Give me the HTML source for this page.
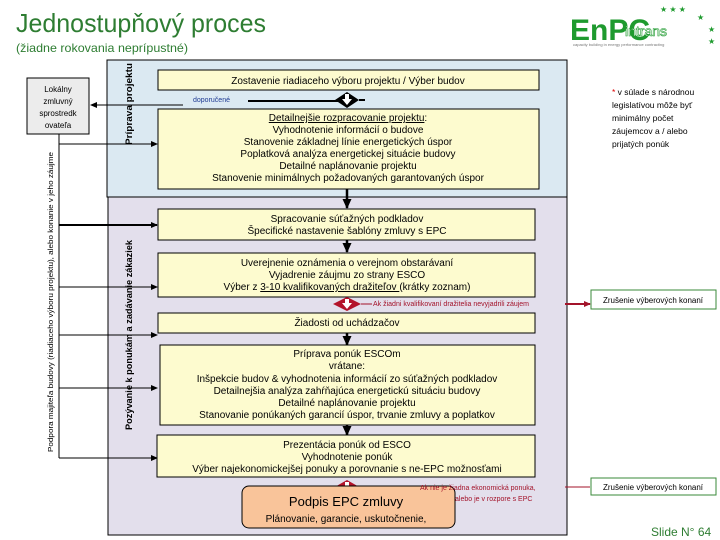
<!DOCTYPE html>
<html><head><meta charset="utf-8"><style>
html,body{margin:0;padding:0;background:#fff}
svg{display:block}
text{font-family:"Liberation Sans",sans-serif}
</style></head><body>
<svg width="720" height="540" viewBox="0 0 720 540" xmlns="http://www.w3.org/2000/svg">
<defs>
<marker id="a" markerUnits="userSpaceOnUse" markerWidth="7" markerHeight="7" refX="6" refY="3.5" orient="auto"><path d="M0,0.5 L7,3.5 L0,6.5z" fill="#000"/></marker>
<marker id="ab" markerUnits="userSpaceOnUse" markerWidth="10" markerHeight="10" refX="9" refY="5" orient="auto"><path d="M0,0.5 L10,5 L0,9.5z" fill="#000"/></marker>
<marker id="ar" markerUnits="userSpaceOnUse" markerWidth="7" markerHeight="7" refX="6" refY="3.5" orient="auto"><path d="M0,0.5 L7,3.5 L0,6.5z" fill="#a3132a"/></marker>
</defs>
<text x="16" y="32" font-size="26" fill="#2e7d32" textLength="250" lengthAdjust="spacingAndGlyphs">Jednostupňový proces</text>
<text x="16" y="52" font-size="12" fill="#2e7d32" textLength="172" lengthAdjust="spacingAndGlyphs">(žiadne rokovania neprípustné)</text>
<!-- logo -->
<text x="570" y="40" font-size="30" font-weight="bold" fill="#1e9a2e">EnPC</text>
<text x="625" y="36" font-size="14" fill="#ffffff" stroke="#1e9a2e" stroke-width="0.6">intrans</text>
<text x="573" y="46" font-size="4" fill="#777">capacity building in energy performance contracting</text>
<text x="660" y="12" font-size="8" fill="#1e9a2e">★ ★ ★</text>
<text x="697" y="20" font-size="8" fill="#1e9a2e">★</text>
<text x="708" y="32" font-size="8" fill="#1e9a2e">★</text>
<text x="708" y="44" font-size="8" fill="#1e9a2e">★</text>
<!-- panels -->
<rect x="107" y="60" width="460" height="137" fill="#dbe9f2" stroke="#000" stroke-width="1"/>
<rect x="108" y="197" width="459" height="338" fill="#e3dfec" stroke="#000" stroke-width="1"/>
<text transform="translate(132,145) rotate(-90)" font-size="9" font-weight="bold" textLength="82" lengthAdjust="spacingAndGlyphs">Príprava projektu</text>
<text transform="translate(132,430) rotate(-90)" font-size="9" font-weight="bold" textLength="190" lengthAdjust="spacingAndGlyphs">Pozývanie k ponukám a zadávanie zákaziek</text>
<text transform="translate(53,452) rotate(-90)" font-size="7" textLength="300" lengthAdjust="spacingAndGlyphs">Podpora majiteľa budovy (riadiaceho výboru projektu), alebo konanie v jeho záujme</text>
<!-- Lokálny -->
<rect x="27" y="78" width="62" height="56" fill="#ececec" stroke="#000"/>
<g font-size="8" text-anchor="middle"><text x="58" y="92">Lokálny</text><text x="58" y="104">zmluvný</text><text x="58" y="116">sprostredk</text><text x="58" y="128">ovateľa</text></g>
<line x1="59" y1="134" x2="59" y2="458" stroke="#000"/>
<g stroke="#000" marker-end="url(#a)">
<line x1="59" y1="144" x2="157" y2="144"/>
<line x1="59" y1="225" x2="157" y2="225" stroke-width="2"/>
<line x1="59" y1="287" x2="157" y2="287"/>
<line x1="59" y1="335" x2="157" y2="335"/>
<line x1="59" y1="388" x2="157" y2="388"/>
<line x1="59" y1="458" x2="157" y2="458"/>
</g>
<!-- doporucene line -->
<line x1="183" y1="105" x2="91" y2="105" stroke="#000" marker-end="url(#a)"/>
<text x="193" y="102" font-size="7" fill="#1f3a93">doporučené</text>
<line x1="248" y1="101" x2="338" y2="101" stroke="#000" stroke-width="2"/>
<path d="M335,100 L347,92 L359,100 L347,108z" fill="#000"/>
<path d="M345,94 h4 v5 h3 l-5,6 l-5,-6 h3z" fill="#fff"/>
<line x1="359" y1="100" x2="365" y2="100" stroke="#000" stroke-width="2"/>
<!-- top boxes -->
<rect x="158" y="70" width="381" height="20" fill="#fdfbcf" stroke="#000"/>
<text x="348" y="84" font-size="10" text-anchor="middle">Zostavenie riadiaceho výboru projektu / Výber budov</text>
<rect x="158" y="109" width="381" height="80" fill="#fdfbcf" stroke="#000"/>
<g font-size="10" text-anchor="middle">
<text x="348" y="121"><tspan text-decoration="underline">Detailnejšie rozpracovanie projektu</tspan>:</text>
<text x="348" y="133">Vyhodnotenie informácií o budove</text>
<text x="348" y="145">Stanovenie základnej línie energetických úspor</text>
<text x="348" y="157">Poplatková analýza energetickej situácie budovy</text>
<text x="348" y="169">Detailné naplánovanie projektu</text>
<text x="348" y="181">Stanovenie minimálnych požadovaných garantovaných úspor</text>
</g>
<line x1="347" y1="189" x2="347" y2="208" stroke="#000" stroke-width="2.5" marker-end="url(#ab)"/>
<!-- lower boxes -->
<rect x="158" y="209" width="377" height="31" fill="#fdfbcf" stroke="#000"/>
<g font-size="10" text-anchor="middle"><text x="347" y="222">Spracovanie súťažných podkladov</text><text x="347" y="234">Špecifické nastavenie šablóny zmluvy s EPC</text></g>
<line x1="347" y1="240" x2="347" y2="252" stroke="#000" stroke-width="2.5" marker-end="url(#ab)"/>
<rect x="158" y="253" width="377" height="44" fill="#fdfbcf" stroke="#000"/>
<g font-size="10" text-anchor="middle"><text x="347" y="266">Uverejnenie oznámenia o verejnom obstarávaní</text><text x="347" y="278">Vyjadrenie záujmu zo strany ESCO</text><text x="347" y="290">Výber z <tspan text-decoration="underline">3-10 kvalifikovaných dražiteľov </tspan>(krátky zoznam)</text></g>
<path d="M333,304 L347,297 L361,304 L347,311z" fill="#b3132a"/>
<path d="M345,299 h4 v4 h3 l-5,6 l-5,-6 h3z" fill="#fff"/>
<line x1="361" y1="304" x2="372" y2="304" stroke="#a3132a"/>
<text x="373" y="306" font-size="7" fill="#a3132a">Ak žiadni kvalifikovaní dražitelia nevyjadrili záujem</text>
<line x1="565" y1="304" x2="590" y2="304" stroke="#a3132a" stroke-width="2" marker-end="url(#ar)"/>
<rect x="591" y="290" width="125" height="19" fill="#fff" stroke="#3a8a3a"/>
<text x="653" y="303" font-size="8" text-anchor="middle">Zrušenie výberových konaní</text>
<rect x="158" y="313" width="377" height="20" fill="#fdfbcf" stroke="#000"/>
<text x="347" y="326" font-size="10" text-anchor="middle">Žiadosti od uchádzačov</text>
<line x1="347" y1="333" x2="347" y2="345" stroke="#000" stroke-width="2.5" marker-end="url(#ab)"/>
<rect x="160" y="345" width="375" height="80" fill="#fdfbcf" stroke="#000"/>
<g font-size="10" text-anchor="middle"><text x="347" y="357">Príprava ponúk ESCOm</text><text x="347" y="369">vrátane:</text><text x="347" y="382">Inšpekcie budov &amp; vyhodnotenia informácií zo súťažných podkladov</text><text x="347" y="394">Detailnejšia analýza zahŕňajúca energetickú situáciu budovy</text><text x="347" y="406">Detailné naplánovanie projektu</text><text x="347" y="418">Stanovanie ponúkaných garancií úspor, trvanie zmluvy a poplatkov</text></g>
<line x1="347" y1="425" x2="347" y2="435" stroke="#000" stroke-width="2.5" marker-end="url(#ab)"/>
<rect x="157" y="435" width="378" height="42" fill="#fdfbcf" stroke="#000"/>
<g font-size="10" text-anchor="middle"><text x="347" y="448">Prezentácia ponúk od ESCO</text><text x="347" y="460">Vyhodnotenie ponúk</text><text x="347" y="472">Výber najekonomickejšej ponuky a porovnanie s ne-EPC možnosťami</text></g>
<path d="M333,488 L347,480 L361,488 L347,496z" fill="#b3132a"/>
<path d="M345,482 h4 v4 h3 l-5,6 l-5,-6 h3z" fill="#fff"/>
<line x1="361" y1="487" x2="410" y2="487" stroke="#a3132a"/>
<rect x="242" y="486" width="213" height="42" rx="7" fill="#f9c49a" stroke="#000"/>
<text x="346" y="506" font-size="13" text-anchor="middle">Podpis EPC zmluvy</text>
<text x="346" y="522" font-size="10" text-anchor="middle">Plánovanie, garancie, uskutočnenie,</text>
<text x="420" y="490" font-size="7" fill="#a3132a">Ak nie je žiadna ekonomická ponuka,</text>
<text x="455" y="501" font-size="7" fill="#a3132a">alebo je v rozpore s EPC</text>
<line x1="565" y1="487" x2="590" y2="487" stroke="#a3132a"/>
<rect x="591" y="478" width="125" height="17" fill="#fff" stroke="#3a8a3a"/>
<text x="653" y="490" font-size="8" text-anchor="middle">Zrušenie výberových konaní</text>
<!-- note -->
<g font-size="8.5"><text x="612" y="95"><tspan fill="#d00">*</tspan> v súlade s národnou</text><text x="612" y="108">legislatívou môže byť</text><text x="612" y="121">minimálny počet</text><text x="612" y="134">záujemcov a / alebo</text><text x="612" y="147">prijatých ponúk</text></g>
<text x="651" y="536" font-size="12" fill="#2e7d32">Slide N° 64</text>
</svg>
</body></html>
